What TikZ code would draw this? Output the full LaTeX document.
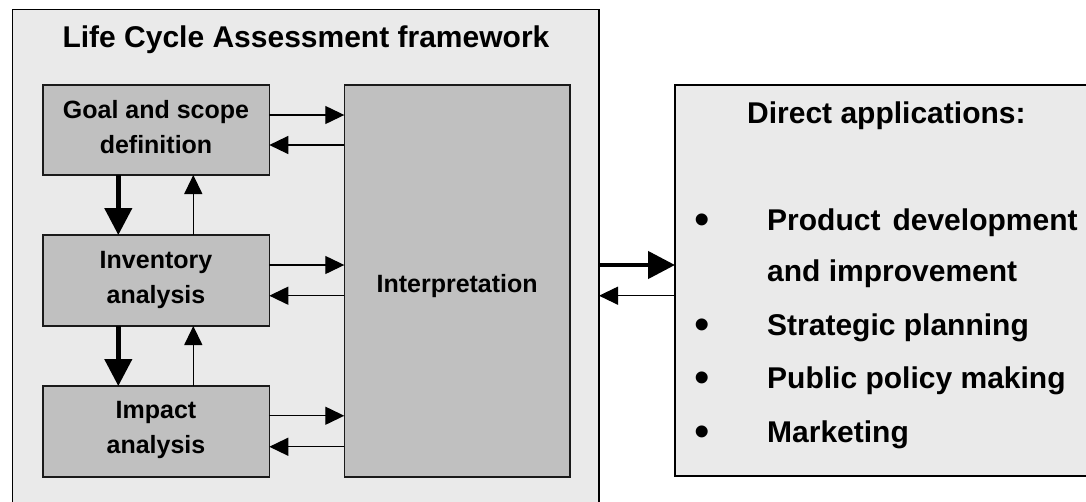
\documentclass[tikz,border=0pt]{standalone}
\usepackage{fontspec}
\setmainfont{Liberation Sans}
\usetikzlibrary{arrows.meta}
\definecolor{framegray}{HTML}{EAEAEA}
\definecolor{boxgray}{HTML}{C0C0C0}
\definecolor{boxline}{HTML}{1A1A1A}
\begin{document}
\begin{tikzpicture}[x=1pt,y=-1pt,
  framebox/.style={draw=black,line width=1.3pt,fill=framegray,rectangle,inner sep=0pt,outer sep=0pt},
  stagebox/.style={draw=boxline,line width=1.6pt,fill=boxgray,rectangle,inner sep=0pt,outer sep=0pt},
  biglbl/.style={font=\bfseries\fontsize{30}{36}\selectfont,inner sep=0pt,anchor=base},
  bulletlbl/.style={font=\fontsize{44}{50}\selectfont,inner sep=0pt,anchor=base},
  biglblw/.style={font=\bfseries\fontsize{30}{36}\selectfont,inner sep=0pt,anchor=base west},
  lbl/.style={font=\bfseries\fontsize{25}{30}\selectfont,inner sep=0pt,anchor=base},
  thinarr/.style={line width=1.3pt,-{Triangle[length=19pt,width=18pt]}},
  thickarr/.style={line width=4.5pt,-{Triangle[length=27pt,width=27pt]}}
]
\useasboundingbox (0,0) rectangle (1086,501);
\clip (0,0) rectangle (1086,501);
\fill[white] (0,0) rectangle (1086,501);

% outer frame
\node[framebox,minimum width=586.3pt,minimum height=520.7pt] (frame) at (305.85,269.65) {};
\node[biglbl] (ttl) at (306,47) {Life Cycle Assessment framework};

% stage boxes
\node[stagebox,minimum width=226.6pt,minimum height=90pt] (goal) at (156,130) {};
\node[stagebox,minimum width=226.6pt,minimum height=91pt] (inv) at (156,280.5) {};
\node[stagebox,minimum width=226.6pt,minimum height=90.7pt] (imp) at (156,431.35) {};
\node[stagebox,minimum width=225.7pt,minimum height=391.7pt] (interp) at (457.15,280.85) {};

\node[lbl] (goalA) at ([yshift=11.7pt]goal.center) {Goal and scope};
\node[lbl] (goalB) at ([yshift=-23pt]goal.center) {definition};
\node[lbl] (invA) at ([yshift=12.5pt]inv.center) {Inventory};
\node[lbl] (invB) at ([yshift=-22.5pt]inv.center) {analysis};
\node[lbl] (impA) at ([yshift=13pt]imp.center) {Impact};
\node[lbl] (impB) at ([yshift=-22pt]imp.center) {analysis};
\node[lbl] (interpT) at ([yshift=-11.2pt]interp.center) {Interpretation};

% right box
\node[framebox,minimum width=425pt,minimum height=391pt] (apps) at (887.5,280.5) {};
\node[biglblw] (appsT) at (747,123) {Direct applications:};
\node[bulletlbl] (b1) at (702,234) {•};
\node[bulletlbl] (b2) at (702,339) {•};
\node[bulletlbl] (b3) at (702,392) {•};
\node[bulletlbl] (b4) at (702,446) {•};
\node[biglblw] (i1) at (767,230) {Product\hspace{12pt}development};
\node[biglblw] (i1b) at (767,281) {and improvement};
\node[biglblw] (i2) at (767,335) {Strategic planning};
\node[biglblw] (i3) at (767,388) {Public policy making};
\node[biglblw] (i4) at (767,442) {Marketing};

% horizontal connectors
\draw[thinarr] ([yshift=15pt]goal.east) -- ([yshift=15pt]goal.east -| interp.west);
\draw[thinarr] ([yshift=-15pt]goal.east -| interp.west) -- ([yshift=-15pt]goal.east);
\draw[thinarr] ([yshift=15.5pt]inv.east) -- ([yshift=15.5pt]inv.east -| interp.west);
\draw[thinarr] ([yshift=-15.2pt]inv.east -| interp.west) -- ([yshift=-15.2pt]inv.east);
\draw[thinarr] ([yshift=15.6pt]imp.east) -- ([yshift=15.6pt]imp.east -| interp.west);
\draw[thinarr] ([yshift=-15.4pt]imp.east -| interp.west) -- ([yshift=-15.4pt]imp.east);

% vertical connectors
\draw[thickarr] ([xshift=-37.7pt]goal.south) -- ([xshift=-37.7pt]goal.south |- inv.north);
\draw[thinarr] ([xshift=37.3pt]inv.north) -- ([xshift=37.3pt]inv.north |- goal.south);
\draw[thickarr] ([xshift=-37.7pt]inv.south) -- ([xshift=-37.7pt]inv.south |- imp.north);
\draw[thinarr] ([xshift=37.3pt]imp.north) -- ([xshift=37.3pt]imp.north |- inv.south);

% frame <-> applications
\draw[thickarr] ([yshift=15.5pt]apps.west -| frame.east) -- ([yshift=15.5pt]apps.west);
\draw[thinarr] ([yshift=-15.2pt]apps.west) -- ([yshift=-15.2pt]apps.west -| frame.east);
\end{tikzpicture}
\end{document}
